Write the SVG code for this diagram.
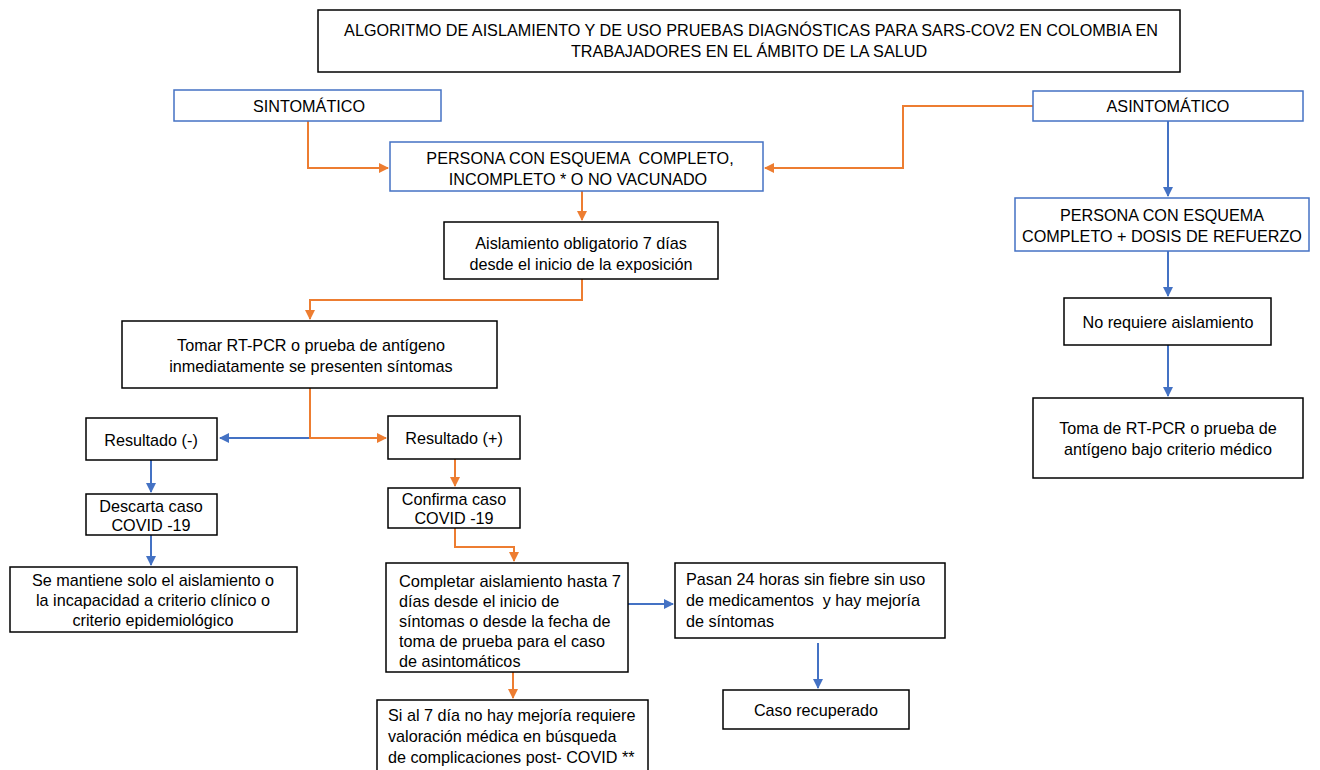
<svg xmlns="http://www.w3.org/2000/svg" width="1320" height="770" viewBox="0 0 1320 770">
<defs>
<style>
.bk{fill:#fff;stroke:#000;stroke-width:1.5}
.bl{fill:#fff;stroke:#4472C4;stroke-width:1.5}
text{font-family:"Liberation Sans",Arial,sans-serif;font-size:16.2px;fill:#000;white-space:pre}
.c{text-anchor:middle}
.o{fill:none;stroke:#ED7D31;stroke-width:2}
.b{fill:none;stroke:#4472C4;stroke-width:2}
</style>
<marker id="ao" viewBox="0 0 10 10" refX="9" refY="5" markerWidth="5" markerHeight="5" orient="auto"><path d="M0,0L10,5L0,10z" fill="#ED7D31"/></marker>
<marker id="ab" viewBox="0 0 10 10" refX="9" refY="5" markerWidth="5" markerHeight="5" orient="auto"><path d="M0,0L10,5L0,10z" fill="#4472C4"/></marker>
</defs>
<rect width="1320" height="770" fill="#fff"/>
<g id="connectors">
<path class="o" d="M308,121V168H388" marker-end="url(#ao)"/>
<path class="o" d="M1033,106H903V168H765" marker-end="url(#ao)"/>
<path class="o" d="M582,191V220" marker-end="url(#ao)"/>
<path class="o" d="M582,279V300H310V319" marker-end="url(#ao)"/>
<path class="b" d="M310,438H220" marker-end="url(#ab)"/>
<path class="o" d="M310,388V438H386" marker-end="url(#ao)"/>
<path class="b" d="M151,460V492" marker-end="url(#ab)"/>
<path class="b" d="M151,535V565" marker-end="url(#ab)"/>
<path class="o" d="M455,459V486" marker-end="url(#ao)"/>
<path class="o" d="M455,528V547H514V561" marker-end="url(#ao)"/>
<path class="o" d="M513,672V698" marker-end="url(#ao)"/>
<path class="b" d="M628,604H673" marker-end="url(#ab)"/>
<path class="b" d="M818,643V688" marker-end="url(#ab)"/>
<path class="b" d="M1168,121V196" marker-end="url(#ab)"/>
<path class="b" d="M1168,251V296" marker-end="url(#ab)"/>
<path class="b" d="M1168,345V396" marker-end="url(#ab)"/>
</g>
<g id="title"><rect class="bk" x="318" y="10" width="862" height="62"/>
<text class="c" x="751" y="36">ALGORITMO DE AISLAMIENTO Y DE USO PRUEBAS DIAGNÓSTICAS PARA SARS-COV2 EN COLOMBIA EN</text>
<text class="c" x="749" y="57">TRABAJADORES EN EL ÁMBITO DE LA SALUD</text></g>
<g id="sintomatico"><rect class="bl" x="174" y="90" width="267" height="31"/>
<text class="c" x="309" y="112">SINTOMÁTICO</text></g>
<g id="asintomatico"><rect class="bl" x="1033" y="91" width="270" height="30"/>
<text class="c" x="1168" y="112">ASINTOMÁTICO</text></g>
<g id="persona"><rect class="bl" x="390" y="142" width="373" height="49"/>
<text class="c" x="580" y="164">PERSONA CON ESQUEMA  COMPLETO,</text>
<text class="c" x="578" y="185">INCOMPLETO * O NO VACUNADO</text></g>
<g id="aislamiento"><rect class="bk" x="444" y="222" width="274" height="57"/>
<text class="c" x="581" y="249">Aislamiento obligatorio 7 días</text>
<text class="c" x="581" y="270">desde el inicio de la exposición</text></g>
<g id="tomar"><rect class="bk" x="122" y="321" width="375" height="67"/>
<text class="c" x="311" y="351">Tomar RT-PCR o prueba de antígeno</text>
<text class="c" x="311" y="372">inmediatamente se presenten síntomas</text></g>
<g id="res-neg"><rect class="bk" x="86" y="418" width="131" height="42"/>
<text class="c" x="151" y="446">Resultado (-)</text></g>
<g id="res-pos"><rect class="bk" x="388" y="416" width="132" height="43"/>
<text class="c" x="454" y="444">Resultado (+)</text></g>
<g id="descarta"><rect class="bk" x="86" y="494" width="131" height="41"/>
<text class="c" x="151" y="512">Descarta caso</text>
<text class="c" x="151" y="531">COVID -19</text></g>
<g id="mantiene"><rect class="bk" x="10" y="567" width="287" height="65"/>
<text class="c" x="153" y="586">Se mantiene solo el aislamiento o</text>
<text class="c" x="153" y="606">la incapacidad a criterio clínico o</text>
<text class="c" x="153" y="626">criterio epidemiológico</text></g>
<g id="confirma"><rect class="bk" x="388" y="488" width="132" height="40"/>
<text class="c" x="454" y="505">Confirma caso</text>
<text class="c" x="454" y="524">COVID -19</text></g>
<g id="completar"><rect class="bk" x="386" y="563" width="242" height="109"/>
<text x="399" y="587" textLength="222" lengthAdjust="spacingAndGlyphs">Completar aislamiento hasta 7</text>
<text x="399" y="607">días desde el inicio de</text>
<text x="399" y="627">síntomas o desde la fecha de</text>
<text x="399" y="647">toma de prueba para el caso</text>
<text x="399" y="667">de asintomáticos</text></g>
<g id="si-al-7"><rect class="bk" x="377" y="700" width="271" height="75"/>
<text x="388" y="721">Si al 7 día no hay mejoría requiere</text>
<text x="388" y="742">valoración médica en búsqueda</text>
<text x="388" y="763">de complicaciones post- COVID **</text></g>
<g id="pasan"><rect class="bk" x="675" y="563" width="270" height="75"/>
<text x="686" y="585">Pasan 24 horas sin fiebre sin uso</text>
<text x="686" y="606">de medicamentos  y hay mejoría</text>
<text x="686" y="627">de síntomas</text></g>
<g id="recuperado"><rect class="bk" x="723" y="690" width="186" height="39"/>
<text class="c" x="816" y="716">Caso recuperado</text></g>
<g id="refuerzo"><rect class="bl" x="1015" y="198" width="294" height="53"/>
<text class="c" x="1162" y="221">PERSONA CON ESQUEMA</text>
<text class="c" x="1162" y="242">COMPLETO + DOSIS DE REFUERZO</text></g>
<g id="no-requiere"><rect class="bk" x="1064" y="298" width="207" height="47"/>
<text class="c" x="1168" y="328">No requiere aislamiento</text></g>
<g id="toma"><rect class="bk" x="1033" y="398" width="270" height="80"/>
<text class="c" x="1168" y="434">Toma de RT-PCR o prueba de</text>
<text class="c" x="1168" y="455">antígeno bajo criterio médico</text></g>
</svg>
